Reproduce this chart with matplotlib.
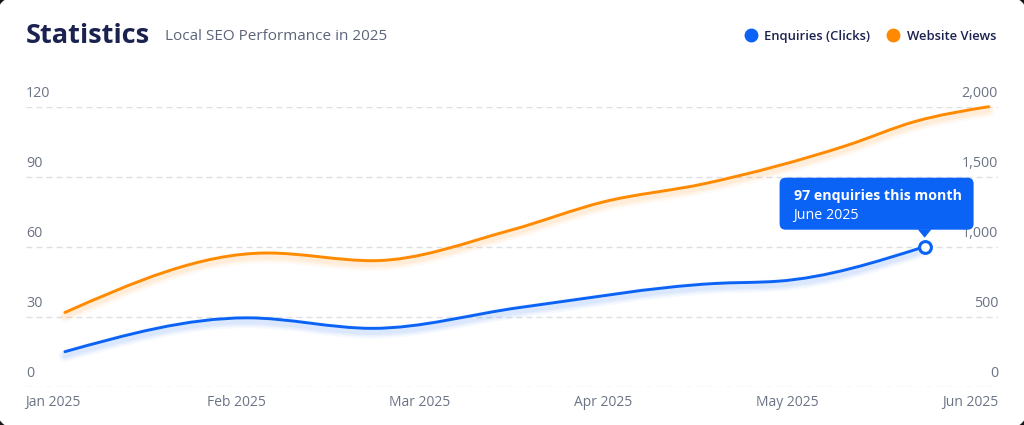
import matplotlib
matplotlib.use("Agg")
import matplotlib.pyplot as plt
import matplotlib.transforms as mtransforms
import numpy as np
from matplotlib.lines import Line2D
from matplotlib.patches import FancyBboxPatch, PathPatch, Polygon
from matplotlib.path import Path

# data (x = position in months, 0 = Jan 2025)
months = ["Jan 2025", "Feb 2025", "Mar 2025", "Apr 2025", "May 2025", "Jun 2025"]
enq_pos = [0.065, 1.06, 1.74, 2.55, 3.6, 3.95, 4.75]
enquiries = [15, 29.5, 25, 34, 44.2, 45.2, 60]
views_pos = [0.065, 1.17, 1.74, 2.5, 3.0, 3.55, 4.33, 4.7, 5.1]
views = [530, 955, 900, 1120, 1320, 1450, 1725, 1895, 2000]
left_ticks = [0, 30, 60, 90, 120]
right_ticks = [0, 500, 1000, 1500, 2000]

tooltip_title = "97 enquiries this month"
tooltip_sub = "June 2025"

BLUE = "#0b63f6"
ORANGE = "#ff8a00"
NAVY = "#1b2250"
GREY = "#6b7385"
GRID = "#dcdfe5"

plt.rcParams['font.family'] = ['Open Sans', 'DejaVu Sans']


def monotone_path(xs, ys):
    # monotone cubic curve through the points, as bezier segments
    xs = np.asarray(xs, float)
    ys = np.asarray(ys, float)
    h = np.diff(xs)
    s = np.diff(ys) / h
    n = len(xs)
    t = np.zeros(n)
    for i in range(1, n - 1):
        if s[i - 1] * s[i] <= 0:
            t[i] = 0
        else:
            p = (s[i - 1] * h[i] + s[i] * h[i - 1]) / (h[i - 1] + h[i])
            t[i] = (np.sign(s[i - 1]) + np.sign(s[i])) * min(abs(s[i - 1]), abs(s[i]), 0.5 * abs(p))
    t[0] = (3 * s[0] - t[1]) / 2
    t[-1] = (3 * s[-1] - t[-2]) / 2
    verts = [(xs[0], ys[0])]
    codes = [Path.MOVETO]
    for i in range(n - 1):
        dx = h[i] / 3
        verts += [(xs[i] + dx, ys[i] + dx * t[i]),
                  (xs[i + 1] - dx, ys[i + 1] - dx * t[i + 1]),
                  (xs[i + 1], ys[i + 1])]
        codes += [Path.CURVE4] * 3
    return Path(verts, codes)


def draw_curve(axis, xs, ys, color):
    path = monotone_path(xs, ys)
    # soft glow under the line
    shadow = axis.transData + mtransforms.ScaledTranslation(0, -0.04, fig.dpi_scale_trans)
    for lw, a in [(9, 0.04), (6, 0.05), (3.5, 0.06)]:
        axis.add_patch(PathPatch(path, fill=False, edgecolor=color, lw=lw, alpha=a,
                                 transform=shadow, clip_on=False, capstyle='round'))
    axis.add_patch(PathPatch(path, fill=False, edgecolor=color, lw=2.1,
                             clip_on=False, capstyle='round', joinstyle='round'))


fig = plt.figure(figsize=(10.24, 4.25), dpi=100)
fig.patch.set_facecolor("#151515")
ident = mtransforms.IdentityTransform()
card = FancyBboxPatch((-3, -3), 1030, 431, boxstyle="round,pad=0,rounding_size=20",
                      facecolor="white", edgecolor="none", transform=ident, zorder=-5)
fig.patches.append(card)

ax = fig.add_axes([26 / 1024, 1 - 386.7 / 425, 972 / 1024, 280 / 425])
ax.set_facecolor("none")
ax.set_axisbelow(True)
ax.set_xlim(-0.147, 5.15)
ax.set_ylim(0, 120)
ax.set_yticks(left_ticks)
ax.set_xticks(range(len(months)), months)
ax.tick_params(axis='both', length=0)
ax.tick_params(axis='y', labelleft=False)
ax.tick_params(axis='x', pad=6, labelsize=10, labelcolor=GREY)
ax.yaxis.grid(True, color=GRID, linewidth=1, linestyle=(0, (4.3, 2.9)))
for sp in ax.spines.values():
    sp.set_visible(False)

ax2 = ax.twinx()
ax2.set_ylim(0, 2000)
ax2.set_yticks([])
for sp in ax2.spines.values():
    sp.set_visible(False)

left_tf = mtransforms.blended_transform_factory(ax.transAxes, ax.transData)
for v in left_ticks:
    ax.annotate(str(v), xy=(0, v), xycoords=left_tf, xytext=(0, 10), textcoords='offset pixels',
                ha='left', va='baseline', fontsize=10.3, color=GREY)
right_tf = mtransforms.blended_transform_factory(ax2.transAxes, ax2.transData)
for v in right_ticks:
    ax2.annotate(f"{v:,}", xy=(1, v), xycoords=right_tf, xytext=(0, 10), textcoords='offset pixels',
                 ha='right', va='baseline', fontsize=10.3, color=GREY)

draw_curve(ax, enq_pos, enquiries, BLUE)
draw_curve(ax2, views_pos, views, ORANGE)

# highlighted point + tooltip
ax2.plot(enq_pos[-1], enquiries[-1] / 120 * 2000, 'o', ms=8.5, mfc='white', mec=BLUE, mew=2.2,
         clip_on=False, zorder=5)
px, py = ax.transData.transform((enq_pos[-1], enquiries[-1]))
box = FancyBboxPatch((px - 145, py + 17), 194, 52, boxstyle="round,pad=0,rounding_size=6",
                     facecolor=BLUE, edgecolor="none", transform=ident, zorder=6)
fig.patches.append(box)
fig.patches.append(Polygon([(px - 7, py + 17.5), (px + 7, py + 17.5), (px, py + 9)],
                           closed=True, facecolor=BLUE, edgecolor="none", transform=ident, zorder=6))
fig.text(px - 131, py + 46.5, tooltip_title, transform=ident, color="white", fontsize=10.2,
         fontweight='bold', va='baseline', zorder=7)
fig.text(px - 131, py + 27.5, tooltip_sub, transform=ident, color="white", fontsize=10.3,
         va='baseline', zorder=7)

# header
fig.text(26 / 1024, 1 - 43 / 425, "Statistics", fontsize=19.5, fontweight='bold', color=NAVY,
         va='baseline')
fig.text(165 / 1024, 1 - 40 / 425, "Local SEO Performance in 2025", fontsize=11, color="#5b6478",
         va='baseline')

handles = [Line2D([], [], ls='none', marker='o', ms=9, color=BLUE, label="Enquiries (Clicks)"),
           Line2D([], [], ls='none', marker='o', ms=9, color=ORANGE, label="Website Views")]
leg = fig.legend(handles=handles, loc='upper right', bbox_to_anchor=(1008 / 1024, 1 - 18 / 425),
                 ncol=2, frameon=False, handletextpad=0.55, columnspacing=1.25, handlelength=1.0,
                 prop={'size': 9.4, 'weight': 'semibold'})
for t in leg.get_texts():
    t.set_color(NAVY)

fig.savefig("out.png", dpi=100, facecolor=fig.get_facecolor())
